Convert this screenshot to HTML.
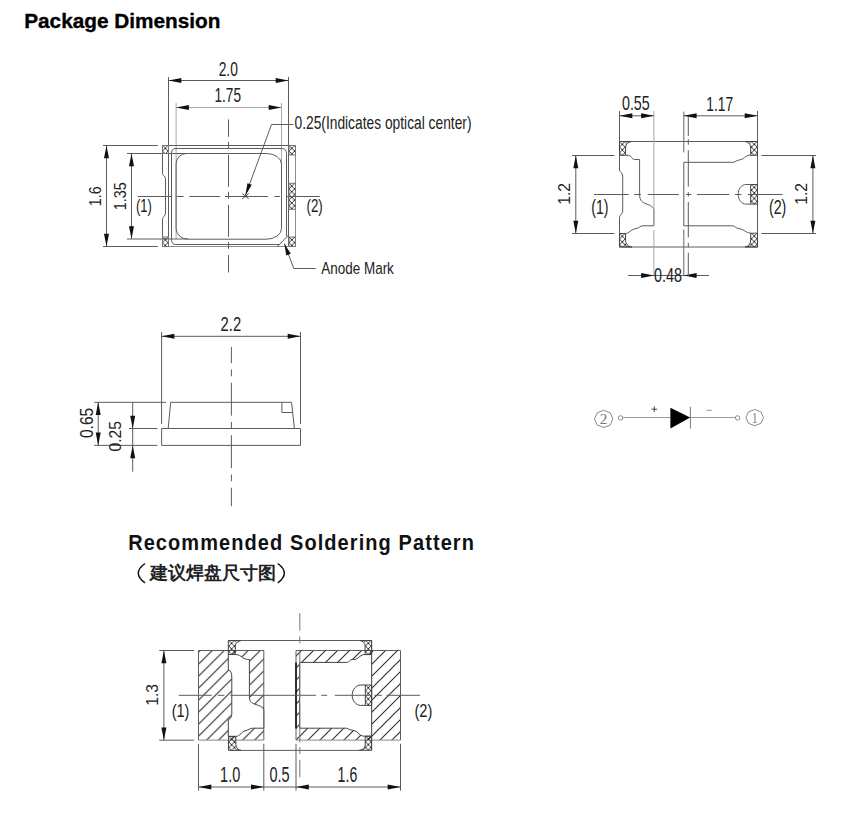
<!DOCTYPE html>
<html><head><meta charset="utf-8">
<style>
html,body{margin:0;padding:0;background:#fff;width:868px;height:816px;overflow:hidden}
body{position:relative;font-family:"Liberation Sans",sans-serif}
svg{position:absolute;left:0;top:0}
svg text{font-family:"Liberation Sans",sans-serif;font-kerning:none}
.h3{position:absolute;left:150px;top:562px;font:bold 18px/22px "Liberation Sans",sans-serif;color:#222;white-space:nowrap}
</style></head><body>
<div class="h3">建议焊盘尺寸图</div>
<svg width="868" height="816" viewBox="0 0 868 816">
<defs>
<pattern id="xh0" patternUnits="userSpaceOnUse" x="162.5" y="145.5" width="5.6" height="5.6"><path d="M0,0 L5.6,5.6 M5.6,0 L0,5.6" stroke="#222" stroke-width="0.9"/></pattern><pattern id="xh1" patternUnits="userSpaceOnUse" x="162.5" y="237" width="5.6" height="5.6"><path d="M0,0 L5.6,5.6 M5.6,0 L0,5.6" stroke="#222" stroke-width="0.9"/></pattern><pattern id="xh2" patternUnits="userSpaceOnUse" x="289" y="145.5" width="5.6" height="5.6"><path d="M0,0 L5.6,5.6 M5.6,0 L0,5.6" stroke="#222" stroke-width="0.9"/></pattern><pattern id="xh3" patternUnits="userSpaceOnUse" x="289" y="183.3" width="5.6" height="5.6"><path d="M0,0 L5.6,5.6 M5.6,0 L0,5.6" stroke="#222" stroke-width="0.9"/></pattern><pattern id="xh4" patternUnits="userSpaceOnUse" x="289" y="237" width="5.6" height="5.6"><path d="M0,0 L5.6,5.6 M5.6,0 L0,5.6" stroke="#222" stroke-width="0.9"/></pattern><pattern id="xh5" patternUnits="userSpaceOnUse" x="619.5" y="141.5" width="5.6" height="5.6"><path d="M0,0 L5.6,5.6 M5.6,0 L0,5.6" stroke="#222" stroke-width="0.9"/></pattern><pattern id="xh6" patternUnits="userSpaceOnUse" x="619.5" y="233.5" width="5.6" height="5.6"><path d="M0,0 L5.6,5.6 M5.6,0 L0,5.6" stroke="#222" stroke-width="0.9"/></pattern><pattern id="xh7" patternUnits="userSpaceOnUse" x="751.5" y="141.5" width="5.6" height="5.6"><path d="M0,0 L5.6,5.6 M5.6,0 L0,5.6" stroke="#222" stroke-width="0.9"/></pattern><pattern id="xh8" patternUnits="userSpaceOnUse" x="751.5" y="233.2" width="5.6" height="5.6"><path d="M0,0 L5.6,5.6 M5.6,0 L0,5.6" stroke="#222" stroke-width="0.9"/></pattern><pattern id="xh9" patternUnits="userSpaceOnUse" x="751.5" y="184.5" width="5.6" height="5.6"><path d="M0,0 L5.6,5.6 M5.6,0 L0,5.6" stroke="#222" stroke-width="0.9"/></pattern><pattern id="xh10" patternUnits="userSpaceOnUse" x="228.8" y="640.5" width="5.6" height="5.6"><path d="M0,0 L5.6,5.6 M5.6,0 L0,5.6" stroke="#222" stroke-width="0.9"/></pattern><pattern id="xh11" patternUnits="userSpaceOnUse" x="365.5" y="640.5" width="5.6" height="5.6"><path d="M0,0 L5.6,5.6 M5.6,0 L0,5.6" stroke="#222" stroke-width="0.9"/></pattern><pattern id="xh12" patternUnits="userSpaceOnUse" x="228.8" y="736.4" width="5.6" height="5.6"><path d="M0,0 L5.6,5.6 M5.6,0 L0,5.6" stroke="#222" stroke-width="0.9"/></pattern><pattern id="xh13" patternUnits="userSpaceOnUse" x="365.5" y="736.2" width="5.6" height="5.6"><path d="M0,0 L5.6,5.6 M5.6,0 L0,5.6" stroke="#222" stroke-width="0.9"/></pattern><pattern id="xh14" patternUnits="userSpaceOnUse" x="365.5" y="685" width="5.6" height="5.6"><path d="M0,0 L5.6,5.6 M5.6,0 L0,5.6" stroke="#222" stroke-width="0.9"/></pattern>
<pattern id="dh0" patternUnits="userSpaceOnUse" x="0" y="10.7" width="12.0" height="12.0"><path d="M-1.5,1.5 L1.5,-1.5 M0,12.0 L12.0,0 M10.5,13.5 L13.5,10.5" stroke="#2a2a2a" stroke-width="1.05"/></pattern><pattern id="dh1" patternUnits="userSpaceOnUse" x="0" y="4.0" width="12.0" height="12.0"><path d="M-1.5,1.5 L1.5,-1.5 M0,12.0 L12.0,0 M10.5,13.5 L13.5,10.5" stroke="#2a2a2a" stroke-width="1.05"/></pattern>
</defs>
<text transform="translate(24.21,27.60) scale(0.9995,1)" font-size="20.79" font-weight="bold" fill="#000" stroke="#000" stroke-width="0.35">Package Dimension</text>
<text transform="translate(128.16,550.00) scale(0.9100,1)" font-size="21.95" font-weight="bold" fill="#111" letter-spacing="1.208">Recommended Soldering Pattern</text>
<path d="M145,563.5 Q131.6,573.1 145,582.8" stroke="#111" stroke-width="1.5" fill="none" />
<path d="M277.8,563.5 Q290.8,573.1 277.8,582.8" stroke="#111" stroke-width="1.5" fill="none" />
<line x1="168.5" y1="77" x2="168.5" y2="246.5" stroke="#5c5c5c" stroke-width="1" />
<line x1="288.5" y1="77" x2="288.5" y2="246.5" stroke="#5c5c5c" stroke-width="1" />
<line x1="168.5" y1="80.5" x2="288.5" y2="80.5" stroke="#5c5c5c" stroke-width="1" />
<polygon points="168.50,80.50 181.30,78.00 181.30,83.00" fill="#111"/>
<polygon points="288.50,80.50 275.70,83.00 275.70,78.00" fill="#111"/>
<line x1="176.1" y1="103" x2="176.1" y2="239" stroke="#a8a8a8" stroke-width="1" />
<line x1="281.5" y1="103" x2="281.5" y2="164.1" stroke="#a8a8a8" stroke-width="1" />
<line x1="176.1" y1="107.5" x2="281.5" y2="107.5" stroke="#a8a8a8" stroke-width="1" />
<polygon points="176.10,107.50 188.90,105.00 188.90,110.00" fill="#111"/>
<polygon points="281.50,107.50 268.70,110.00 268.70,105.00" fill="#111"/>
<text transform="translate(218.67,75.83) scale(0.7146,1)" font-size="19.32" font-weight="normal" fill="#222" >2.0</text>
<text transform="translate(214.47,101.81) scale(0.6964,1)" font-size="19.61" font-weight="normal" fill="#222" >1.75</text>
<line x1="103" y1="145.5" x2="158" y2="145.5" stroke="#5c5c5c" stroke-width="1" />
<line x1="103" y1="246.5" x2="158" y2="246.5" stroke="#5c5c5c" stroke-width="1" />
<line x1="106.5" y1="145.5" x2="106.5" y2="246.5" stroke="#5c5c5c" stroke-width="1" />
<polygon points="106.50,145.50 109.00,158.30 104.00,158.30" fill="#111"/>
<polygon points="106.50,246.50 104.00,233.70 109.00,233.70" fill="#111"/>
<text transform="translate(100.97,206.26) rotate(-90) scale(0.8723,1)" font-size="16.38" font-weight="normal" fill="#222" >1.6</text>
<line x1="127" y1="153.5" x2="188" y2="153.5" stroke="#5c5c5c" stroke-width="1" />
<line x1="127" y1="239" x2="188" y2="239" stroke="#5c5c5c" stroke-width="1" />
<line x1="131.5" y1="153.5" x2="131.5" y2="239" stroke="#5c5c5c" stroke-width="1" />
<polygon points="131.50,153.50 134.00,166.30 129.00,166.30" fill="#111"/>
<polygon points="131.50,239.00 129.00,226.20 134.00,226.20" fill="#111"/>
<text transform="translate(125.97,210.27) rotate(-90) scale(0.8925,1)" font-size="16.14" font-weight="normal" fill="#222" >1.35</text>
<text transform="translate(135.89,211.75) scale(0.7198,1)" font-size="18.06" font-weight="normal" fill="#222" >(1)</text>
<text transform="translate(306.53,211.67) scale(0.7224,1)" font-size="18.43" font-weight="normal" fill="#222" >(2)</text>
<path d="M162.5,246.5 V219.4 C162.5,216.5 165.5,216 165.5,213 V178.8 C165.5,176 162.5,175.5 162.5,173.6 V145.5 H295.5" stroke="#5c5c5c" stroke-width="1" fill="none" />
<path d="M162.5,246.5 H295.5 V145.5" stroke="#8c8c8c" stroke-width="1" fill="none" />
<path d="M171.5,239.5 V153 Q171.5,148.5 176,148.5 H281.5 Q286.5,148.5 286.5,153.5 V236.3 M288.8,234.9 L277.3,246.7 M279.4,244.5 H176 Q171.5,244.5 171.5,239.5" stroke="#5c5c5c" stroke-width="1" fill="none" />
<path d="M186.2,153.5 H266.5 A15,10.6 0 0 1 281.5,164.1 V228.5 A15,10.7 0 0 1 266.5,239.2 H188 A11.9,10.7 0 0 1 176.1,228.5 V164.1 A10.1,10.6 0 0 1 186.2,153.5 Z" stroke="#5c5c5c" stroke-width="1" fill="none" />
<rect x="162.5" y="145.5" width="6.0" height="8.0" fill="url(#xh0)" stroke="#777" stroke-width="1"/>
<rect x="162.5" y="237" width="6.0" height="9.5" fill="url(#xh1)" stroke="#777" stroke-width="1"/>
<rect x="289" y="145.5" width="6.5" height="9.5" fill="url(#xh2)" stroke="#777" stroke-width="1"/>
<rect x="289" y="183.3" width="6.5" height="26.0" fill="url(#xh3)" stroke="#777" stroke-width="1"/>
<rect x="289" y="237" width="6.5" height="9.5" fill="url(#xh4)" stroke="#777" stroke-width="1"/>
<path d="M228.5,119.4V136.8M228.5,141.8V148.8M228.5,154.8V186.8M228.5,191.8V198.8M228.5,204.8V236.8M228.5,241.8V248.8M228.5,254.8V272.5" stroke="#5c5c5c" stroke-width="1" fill="none"/>
<path d="M137.8,196.5H171.5M176.7,196.5H183.6M189.3,196.5H219.9M225,196.5H268M274.4,196.5H280M286.5,196.5H319.8" stroke="#5c5c5c" stroke-width="1" fill="none"/>
<path d="M242.3,193.6 L248.7,198.8 M248.7,193.6 L242.3,198.8" stroke="#333" stroke-width="0.9" fill="none" />
<path d="M293.4,124.5 H271.5 L245.3,195.8" stroke="#5c5c5c" stroke-width="1" fill="none" />
<polygon points="245.30,195.80 247.45,183.27 251.77,184.86" fill="#111"/>
<text transform="translate(294.48,128.55) scale(0.7542,1)" font-size="18.28" font-weight="normal" fill="#222" >0.25(Indicates optical center)</text>
<path d="M315.7,268.5 H293.8 L284.3,243.4" stroke="#5c5c5c" stroke-width="1" fill="none" />
<polygon points="284.30,243.40 290.79,253.77 286.30,255.47" fill="#111"/>
<text transform="translate(321.33,273.67) scale(0.8128,1)" font-size="16.57" font-weight="normal" fill="#222" >Anode Mark</text>
<path d="M619.5,141.5 H757.5 V247 H619.5 V217.4 C619.5,215 622.7,213.5 622.7,211.5 V176 C622.7,173 619.5,171.5 619.5,170.2 Z" stroke="#5c5c5c" stroke-width="1" fill="none" />
<path d="M619.5,141.5 H631.5 C628,142 625.6,144 625.6,147.5 V155.3 H619.5 Z" fill="url(#xh5)" stroke="#444" stroke-width="1"/>
<path d="M619.5,233.5 H625.6 V240 C625.6,244 628,246.5 631.9,247 H619.5 Z" fill="url(#xh6)" stroke="#444" stroke-width="1"/>
<path d="M757.5,141.5 H745.1 C748.5,142 750.7,144 750.7,147.8 V155.3 H757.5 Z" fill="url(#xh7)" stroke="#444" stroke-width="1"/>
<path d="M757.5,233.2 H750.7 V240 C750.7,244 748.5,246.5 745.1,247 H757.5 Z" fill="url(#xh8)" stroke="#444" stroke-width="1"/>
<path d="M750.7,184.5 H757.5 V204.1 H750.7 Z" fill="url(#xh9)" stroke="#444" stroke-width="1"/>
<path d="M625.6,155.3 H628.9 C631,155.5 632,159.3 634.4,159.5 H639.6 V194.6 C639.6,201 643,202.5 646,203.8 C651,205.5 653.9,207 653.9,211 V225.8 H642.9 C640,225.8 639,228.3 636,228.6 C632,229 630,232 626.7,233.5 H625.6" stroke="#5c5c5c" stroke-width="1" fill="none" />
<path d="M750.7,155.3 H748.5 C745,156 744,159.3 740,159.8 C737,160 735,162.3 733,162.3 H683.8 V225.8 H732.6 C735,225.8 735.5,228.3 739,228.6 C744,229 746,233.2 750.7,233.2" stroke="#5c5c5c" stroke-width="1" fill="none" />
<path d="M750.7,184.5 H745.9 C741.5,184.5 738.2,189 738.2,194.3 C738.2,199.5 741.5,204.1 745.9,204.1 H750.7" stroke="#5c5c5c" stroke-width="1" fill="none" />
<line x1="619.5" y1="111" x2="619.5" y2="141.5" stroke="#5c5c5c" stroke-width="1" />
<path d="M653.9,111V225.8M653.9,230.2V276" stroke="#a8a8a8" stroke-width="1" fill="none"/>
<path d="M683.8,111.6V152.4M683.8,229.6V276" stroke="#666" stroke-width="1" fill="none"/>
<line x1="757.5" y1="111" x2="757.5" y2="141.5" stroke="#5c5c5c" stroke-width="1" />
<line x1="619.5" y1="115.8" x2="653.9" y2="115.8" stroke="#5c5c5c" stroke-width="1" />
<line x1="683.8" y1="115.8" x2="757.5" y2="115.8" stroke="#5c5c5c" stroke-width="1" />
<polygon points="619.50,115.80 632.30,113.30 632.30,118.30" fill="#111"/>
<polygon points="653.90,115.80 641.10,118.30 641.10,113.30" fill="#111"/>
<polygon points="683.80,115.80 696.60,113.30 696.60,118.30" fill="#111"/>
<polygon points="757.50,115.80 744.70,118.30 744.70,113.30" fill="#111"/>
<text transform="translate(621.97,109.80) scale(0.7131,1)" font-size="20.01" font-weight="normal" fill="#222" >0.55</text>
<text transform="translate(706.31,110.83) scale(0.6699,1)" font-size="20.60" font-weight="normal" fill="#222" >1.17</text>
<line x1="628" y1="275.5" x2="708.9" y2="275.5" stroke="#5c5c5c" stroke-width="1" />
<polygon points="653.90,275.50 641.10,278.00 641.10,273.00" fill="#111"/>
<polygon points="683.80,275.50 696.60,273.00 696.60,278.00" fill="#111"/>
<text transform="translate(654.12,281.80) scale(0.7182,1)" font-size="20.01" font-weight="normal" fill="#222" >0.48</text>
<line x1="572" y1="155.5" x2="614.5" y2="155.5" stroke="#5c5c5c" stroke-width="1" />
<line x1="572" y1="233.5" x2="614.5" y2="233.5" stroke="#5c5c5c" stroke-width="1" />
<line x1="575.8" y1="155.5" x2="575.8" y2="233.5" stroke="#5c5c5c" stroke-width="1" />
<polygon points="575.80,155.50 578.30,168.30 573.30,168.30" fill="#111"/>
<polygon points="575.80,233.50 573.30,220.70 578.30,220.70" fill="#111"/>
<line x1="761.3" y1="155.5" x2="816" y2="155.5" stroke="#5c5c5c" stroke-width="1" />
<line x1="761.3" y1="233.5" x2="816" y2="233.5" stroke="#5c5c5c" stroke-width="1" />
<line x1="812.9" y1="155.5" x2="812.9" y2="233.5" stroke="#5c5c5c" stroke-width="1" />
<polygon points="812.90,155.50 815.40,168.30 810.40,168.30" fill="#111"/>
<polygon points="812.90,233.50 810.40,220.70 815.40,220.70" fill="#111"/>
<text transform="translate(570.13,204.70) rotate(-90) scale(0.9239,1)" font-size="16.86" font-weight="normal" fill="#222" >1.2</text>
<text transform="translate(807.13,204.70) rotate(-90) scale(0.9239,1)" font-size="16.86" font-weight="normal" fill="#222" >1.2</text>
<text transform="translate(591.32,213.66) scale(0.7274,1)" font-size="19.34" font-weight="normal" fill="#222" >(1)</text>
<text transform="translate(768.97,213.66) scale(0.7354,1)" font-size="19.34" font-weight="normal" fill="#222" >(2)</text>
<path d="M688.3,116V135.9M688.3,139.2V144.7M688.3,150.2V186.6M688.3,192.1V196.5M688.3,202V237.4M688.3,242.9V247.3M688.3,252.8V276" stroke="#5c5c5c" stroke-width="1" fill="none"/>
<path d="M593.9,194.5H628.7M634.2,194.5H640.8M647.7,194.5H678.8M686,194.5H691.4M697,194.5H729.4M735,194.5H741.4M747.7,194.5H782.6" stroke="#5c5c5c" stroke-width="1" fill="none"/>
<line x1="161.6" y1="332" x2="161.6" y2="424" stroke="#5c5c5c" stroke-width="1" />
<line x1="300.5" y1="332" x2="300.5" y2="424" stroke="#5c5c5c" stroke-width="1" />
<line x1="161.6" y1="336.3" x2="300.5" y2="336.3" stroke="#5c5c5c" stroke-width="1" />
<polygon points="161.60,336.30 174.40,333.80 174.40,338.80" fill="#111"/>
<polygon points="300.50,336.30 287.70,338.80 287.70,333.80" fill="#111"/>
<text transform="translate(220.61,331.17) scale(0.7399,1)" font-size="20.05" font-weight="normal" fill="#222" >2.2</text>
<path d="M161.6,428.5 H300.5 V445.4 H161.6 Z" stroke="#5c5c5c" stroke-width="1" fill="none" />
<path d="M168.2,428.5 L170.7,402.3 H291.6 L294.4,428.5" stroke="#5c5c5c" stroke-width="1" fill="none" />
<path d="M281.9,402.3 V412.5 H292.5" stroke="#5c5c5c" stroke-width="1" fill="none" />
<line x1="94.3" y1="402.3" x2="166" y2="402.3" stroke="#5c5c5c" stroke-width="1" />
<line x1="128.9" y1="428.5" x2="157.4" y2="428.5" stroke="#5c5c5c" stroke-width="1" />
<line x1="94.3" y1="445.4" x2="157.4" y2="445.4" stroke="#5c5c5c" stroke-width="1" />
<line x1="98.2" y1="402.3" x2="98.2" y2="445.4" stroke="#5c5c5c" stroke-width="1" />
<polygon points="98.20,402.30 100.70,415.10 95.70,415.10" fill="#111"/>
<polygon points="98.20,445.40 95.70,432.60 100.70,432.60" fill="#111"/>
<line x1="132.7" y1="402.3" x2="132.7" y2="471.7" stroke="#5c5c5c" stroke-width="1" />
<polygon points="132.70,428.50 130.20,415.70 135.20,415.70" fill="#111"/>
<polygon points="132.70,445.40 135.20,458.20 130.20,458.20" fill="#111"/>
<text transform="translate(92.98,438.10) rotate(-90) scale(0.8893,1)" font-size="17.58" font-weight="normal" fill="#222" >0.65</text>
<text transform="translate(121.16,451.61) rotate(-90) scale(0.9744,1)" font-size="16.14" font-weight="normal" fill="#222" >0.25</text>
<line x1="231.4" y1="346.9" x2="231.4" y2="506.2" stroke="#5c5c5c" stroke-width="1" stroke-dasharray="33 6.3 6.8 6.4" stroke-dashoffset="16.7"/>
<polygon points="612.90,418.90 610.21,424.98 603.70,427.50 597.19,424.98 594.50,418.90 597.19,412.82 603.70,410.30 610.21,412.82" fill="none" stroke="#8a8a8a" stroke-width="1"/>
<polygon points="763.50,417.60 760.92,423.33 754.70,425.70 748.48,423.33 745.90,417.60 748.48,411.87 754.70,409.50 760.92,411.87" fill="none" stroke="#8a8a8a" stroke-width="1"/>
<text transform="translate(599.69,424.34) scale(0.9955,1)" font-size="15.36" font-weight="normal" fill="#777" style="font-family:Liberation Serif">2</text>
<text transform="translate(751.89,422.66) scale(0.7435,1)" font-size="14.63" font-weight="normal" fill="#777" style="font-family:Liberation Serif">1</text>
<circle cx="620.5" cy="417.9" r="2.2" fill="none" stroke="#8a8a8a" stroke-width="1"/>
<circle cx="737.6" cy="417.9" r="2.2" fill="none" stroke="#8a8a8a" stroke-width="1"/>
<line x1="622.7" y1="417.5" x2="670.4" y2="417.5" stroke="#999" stroke-width="1" />
<line x1="690.2" y1="417.5" x2="735.4" y2="417.5" stroke="#999" stroke-width="1" />
<polygon points="670.4,407.8 690.2,417.5 670.4,428.6" fill="#000"/>
<line x1="690.4" y1="406.9" x2="690.4" y2="428.6" stroke="#777" stroke-width="1" />
<path d="M651.5,409.2 H657.1 M654.3,406.4 V412" stroke="#444" stroke-width="1" fill="none" />
<path d="M706.4,410.3 H711.9" stroke="#999" stroke-width="1" fill="none" />
<rect x="198.1" y="650.5" width="65.70000000000002" height="89.60000000000002" fill="url(#dh0)"/>
<rect x="296" y="650.5" width="104.5" height="89.60000000000002" fill="url(#dh1)"/>
<path d="M198.5,740.1 V650.5 H263.8 V740.1" stroke="#5c5c5c" stroke-width="1" fill="none" />
<path d="M296,740.1 V650.5 H400.5 V740.1" stroke="#5c5c5c" stroke-width="1" fill="none" />
<path d="M198.5,740.1 H263.8 M296,740.1 H400.5" stroke="#888" stroke-width="1" fill="none" />
<path d="M235.3,654.5 H236 C238.5,654.5 240.5,656 242.5,657.5 C244.5,659 246.5,659.5 249.4,659.5 V697 C249.4,703 253,703.5 256,704.5 C260,706 263.8,707 263.8,711 V728.2 H252.7 C250,728.2 248.5,730 246,730.5 C243,731 242,733 240,734.5 C239,735.3 238,736.4 235.8,736.4 H228.3 V719.9 C230.5,719 231.8,716.5 231.8,713.5 V677 C231.8,673 230.5,670.5 228.3,669.8 V654.5 Z" stroke="#444" stroke-width="1" fill="#fff" />
<path d="M299.7,662.4 H347.4 C349,662 350,659.5 352,659.5 H354.7 C357,659.4 359,656.3 363.3,654.6 H371.6 V736.2 H363.8 C361.5,736 360,735 356.3,731.4 C354,730.3 352,730.3 349.4,729.5 C348,728.9 347.5,728.2 346.5,728.2 H299.7 Z" stroke="#444" stroke-width="1" fill="#fff" />
<path d="M365.3,685 H360.7 C356,685 352.2,689.5 352.2,695.2 C352.2,700.8 356,705.4 360.7,705.4 H365.3" stroke="#444" stroke-width="1" fill="none" />
<line x1="296" y1="662.4" x2="296" y2="728.4" stroke="#111" stroke-width="1.6" />
<path d="M241.4,640.5 H359.6 M241.3,750.4 H359.2 M371.6,640.5 V750.4" stroke="#5c5c5c" stroke-width="1" fill="none" />
<path d="M228.3,640.5 H241.4 C238,641 235.3,643 235.3,646 V654.5 H228.3 Z" fill="url(#xh10)" stroke="#444" stroke-width="1"/>
<path d="M371.6,640.5 H359.6 C363,641 365.1,643 365.1,645.3 V654.5 H371.6 Z" fill="url(#xh11)" stroke="#444" stroke-width="1"/>
<path d="M228.5,736.4 H235.8 V744.1 C235.8,747.5 238,750 241.3,750.4 H228.5 Z" fill="url(#xh12)" stroke="#444" stroke-width="1"/>
<path d="M371.6,736.2 H365.2 V745 C365.2,748 363,750 359.2,750.3 H371.6 Z" fill="url(#xh13)" stroke="#444" stroke-width="1"/>
<path d="M365.3,685 H371.6 V705.4 H365.3 Z" fill="url(#xh14)" stroke="#444" stroke-width="1"/>
<path d="M178.7,695.3H211.7M217.7,695.3H224.4M230.4,695.3H316M321.2,695.3H327.2M334.7,695.3H371.6M374.4,695.3H381.9M386.4,695.3H420" stroke="#5c5c5c" stroke-width="1" fill="none"/>
<path d="M299.8,613.1V630.6M299.8,636.4V643.4M299.8,650.4V687.7M299.8,691.1V698.1M299.8,704V742.4M299.8,747V754M299.8,759.8V777.3" stroke="#777" stroke-width="1" fill="none"/>
<line x1="159.2" y1="650.5" x2="193.9" y2="650.5" stroke="#5c5c5c" stroke-width="1" />
<line x1="159.2" y1="740.2" x2="193.9" y2="740.2" stroke="#5c5c5c" stroke-width="1" />
<line x1="163.9" y1="650.5" x2="163.9" y2="740.2" stroke="#5c5c5c" stroke-width="1" />
<polygon points="163.90,650.50 166.40,663.30 161.40,663.30" fill="#111"/>
<polygon points="163.90,740.20 161.40,727.40 166.40,727.40" fill="#111"/>
<text transform="translate(158.13,705.86) rotate(-90) scale(0.9094,1)" font-size="17.32" font-weight="normal" fill="#222" >1.3</text>
<text transform="translate(171.63,716.95) scale(0.7750,1)" font-size="18.75" font-weight="normal" fill="#222" >(1)</text>
<text transform="translate(414.45,716.95) scale(0.7823,1)" font-size="18.75" font-weight="normal" fill="#222" >(2)</text>
<line x1="198.5" y1="743.8" x2="198.5" y2="790.7" stroke="#5c5c5c" stroke-width="1" />
<line x1="263.8" y1="743.8" x2="263.8" y2="790.7" stroke="#5c5c5c" stroke-width="1" />
<line x1="296" y1="743.8" x2="296" y2="790.7" stroke="#5c5c5c" stroke-width="1" />
<line x1="400.5" y1="743.8" x2="400.5" y2="790.7" stroke="#5c5c5c" stroke-width="1" />
<line x1="198.5" y1="787" x2="400.5" y2="787" stroke="#5c5c5c" stroke-width="1" />
<polygon points="198.50,787.00 211.30,784.50 211.30,789.50" fill="#111"/>
<polygon points="263.80,787.00 251.00,789.50 251.00,784.50" fill="#111"/>
<polygon points="296.00,787.00 308.80,784.50 308.80,789.50" fill="#111"/>
<polygon points="400.50,787.00 387.70,789.50 387.70,784.50" fill="#111"/>
<text transform="translate(220.09,781.79) scale(0.6671,1)" font-size="21.69" font-weight="normal" fill="#222" >1.0</text>
<text transform="translate(269.45,781.79) scale(0.6683,1)" font-size="21.69" font-weight="normal" fill="#222" >0.5</text>
<text transform="translate(337.62,781.79) scale(0.6511,1)" font-size="21.69" font-weight="normal" fill="#222" >1.6</text>
</svg>
</body></html>
